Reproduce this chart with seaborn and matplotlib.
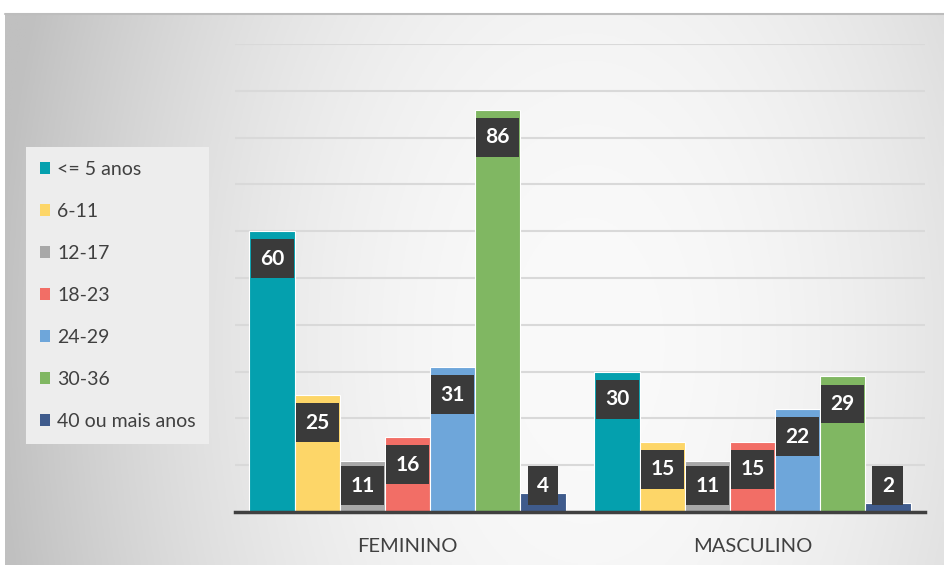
import numpy as np
import pandas as pd
import matplotlib
matplotlib.use("Agg")
import matplotlib.pyplot as plt
import seaborn as sns
from matplotlib.patches import Patch

categories = ["FEMININO", "MASCULINO"]
groups = ["<= 5 anos", "6-11", "12-17", "18-23", "24-29", "30-36", "40 ou mais anos"]
feminino = [60, 25, 11, 16, 31, 86, 4]
masculino = [30, 15, 11, 15, 22, 29, 2]
colors = ["#04A0AE", "#FDD668", "#A8A8A8", "#F26E66", "#6EA6DA", "#80B762", "#3F5B8C"]

rows = []
for g, f, m in zip(groups, feminino, masculino):
    rows.append({"sexo": "FEMININO", "faixa": g, "valor": f})
    rows.append({"sexo": "MASCULINO", "faixa": g, "valor": m})
df = pd.DataFrame(rows)

sns.set_theme(style="white")
plt.rcParams["font.family"] = ["Lato", "DejaVu Sans"]

W, H = 944, 565
fig = plt.figure(figsize=(W / 100, H / 100), dpi=100)
fig.patch.set_facecolor("white")

# background gradient panel
bg = fig.add_axes([5 / W, 0, 939 / W, (H - 14) / H])
ny, nx = 200, 340
xx, yy = np.meshgrid(np.linspace(0, 1, nx), np.linspace(0, 1, ny))
dx = (xx - 0.62) / 0.62
dy = (yy - 0.6) / 0.6
v = 250 - 56 * (dx ** 2 + 0.12 * dy ** 2)
v = np.clip(v, 192, 250) / 255.0
bg.imshow(np.dstack([v, v, v]), aspect="auto", extent=[0, 1, 0, 1], origin="upper")
bg.set_xlim(0, 1)
bg.set_ylim(0, 1)
bg.axis("off")
bg.plot([0, 1], [1, 1], color="#BDBDBD", lw=1.5, transform=bg.transAxes, clip_on=False)

ax = fig.add_axes([235 / W, (H - 512) / H, 690 / W, 468 / H])
ax.set_facecolor("none")
sns.barplot(data=df, x="sexo", y="valor", hue="faixa", order=categories,
            hue_order=groups, palette=colors, width=0.916, ax=ax,
            edgecolor="white", linewidth=0.8, legend=False, saturation=1)
ax.set_ylim(0, 100)
ax.set_xlim(-0.5, 1.5)
ax.set_yticks(np.arange(10, 101, 10))
ax.yaxis.grid(True, color="#D9D9D9", lw=1.5)
ax.set_axisbelow(True)
ax.set_yticklabels([])
ax.tick_params(axis="y", length=0)
ax.tick_params(axis="x", length=0, labelsize=14.5, labelcolor="#404040", pad=19)
ax.set_xlabel("")
ax.set_ylabel("")
for s in ["top", "right", "left"]:
    ax.spines[s].set_visible(False)
ax.spines["bottom"].set_color("#404040")
ax.spines["bottom"].set_linewidth(2.5)

for cont in ax.containers:
    for bar in cont:
        h = bar.get_height()
        xc = bar.get_x() + bar.get_width() / 2
        yl = max(h - 5.9, 5.6)
        ax.text(xc, yl, f"{int(round(h))}", ha="center", va="center",
                color="white", fontsize=15, fontweight="bold", zorder=5,
                bbox=dict(boxstyle="square,pad=0.45", fc="#3A3A3A", ec="none"))

handles = [Patch(facecolor=c, edgecolor="none") for c in colors]
leg = fig.legend(handles, groups, loc="upper left",
                 bbox_to_anchor=(26 / W, 1 - 147 / H), frameon=True,
                 fontsize=14, labelcolor="#404040", handlelength=0.55,
                 handleheight=0.55, handletextpad=0.35, labelspacing=1.29,
                 borderpad=0.7, borderaxespad=0)
leg.get_frame().set_facecolor("#EDEDED")
leg.get_frame().set_edgecolor("none")
leg.get_frame().set_boxstyle("square", pad=0)
leg.get_frame().set_alpha(1)

fig.savefig("out.png", dpi=100)
